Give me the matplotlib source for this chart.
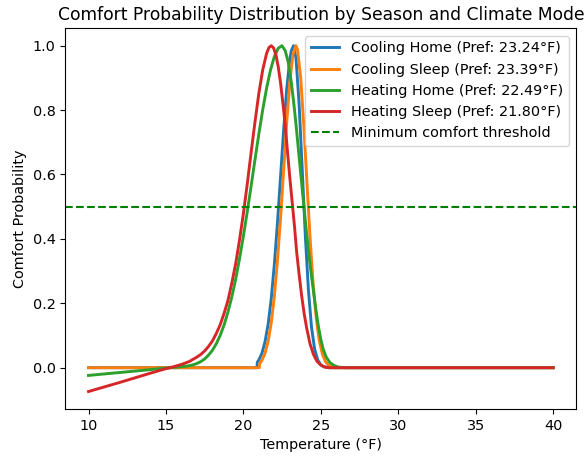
import matplotlib
matplotlib.use("Agg")
import matplotlib.pyplot as plt

# Comfort probability vs temperature, one curve per season / climate mode
cooling_home_temp = [10, 20.88, 20.9, 21.0, 21.2, 21.4, 21.6, 21.8, 22.0, 22.2, 22.4, 22.6,
                     22.8, 23.0, 23.1, 23.24, 23.4, 23.6, 23.8, 24.0, 24.2, 24.4, 24.6,
                     24.8, 25.0, 25.2, 25.4, 25.6, 40]
cooling_home_prob = [0, 0, 0.017, 0.024, 0.045, 0.081, 0.135, 0.214, 0.32, 0.448, 0.592, 0.737,
                     0.866, 0.958, 0.985, 1.0, 0.961, 0.819, 0.617, 0.411, 0.242, 0.126, 0.058,
                     0.024, 0.009, 0.003, 0.001, 0, 0]

cooling_sleep_temp = [10, 21.03, 21.05, 21.2, 21.4, 21.6, 21.8, 22.0, 22.2, 22.4, 22.6, 22.8,
                      23.0, 23.2, 23.39, 23.5, 23.7, 23.9, 24.1, 24.3, 24.5, 24.7, 24.9,
                      25.1, 25.3, 25.5, 25.7, 25.9, 40]
cooling_sleep_prob = [0, 0, 0.012, 0.023, 0.045, 0.082, 0.139, 0.221, 0.331, 0.465, 0.612, 0.762,
                      0.888, 0.972, 1.0, 0.987, 0.901, 0.755, 0.58, 0.409, 0.264, 0.156, 0.085,
                      0.042, 0.019, 0.008, 0.003, 0, 0]

heating_home_temp = [10, 12, 14, 15, 15.5, 16, 16.5, 16.75, 17, 17.25, 17.5, 17.75, 18, 18.25,
                     18.5, 18.75, 19, 19.25, 19.5, 19.75, 20, 20.25, 20.5, 20.75, 21, 21.25,
                     21.5, 21.75, 22.0, 22.25, 22.49, 22.7, 22.9, 23.1, 23.27, 23.4, 23.55,
                     23.75, 23.93, 24.1, 24.26, 24.4, 24.56, 24.7, 24.84, 25.0, 25.16, 25.35,
                     25.59, 25.85, 26.13, 26.5, 40]
heating_home_prob = [-0.024, -0.015, -0.006, -0.001, 0.001, 0.003, 0.006, 0.009, 0.013, 0.019,
                     0.027, 0.039, 0.054, 0.074, 0.1, 0.132, 0.172, 0.219, 0.274, 0.338, 0.408,
                     0.484, 0.564, 0.646, 0.726, 0.801, 0.868, 0.924, 0.966, 0.992, 1.0, 0.985,
                     0.948, 0.885, 0.815, 0.755, 0.68, 0.58, 0.49, 0.41, 0.34, 0.285, 0.225,
                     0.175, 0.13, 0.088, 0.057, 0.033, 0.016, 0.007, 0.002, 0, 0]

heating_sleep_temp = [10, 12, 14, 15, 15.5, 16, 16.5, 17, 17.25, 17.5, 17.75, 18, 18.25, 18.5,
                      18.75, 19, 19.25, 19.5, 19.75, 20, 20.25, 20.5, 20.75, 21, 21.25, 21.5,
                      21.65, 21.8, 21.95, 22.1, 22.25, 22.4, 22.58, 22.7, 22.84, 23.0, 23.18,
                      23.3, 23.44, 23.6, 23.76, 23.92, 24.08, 24.3, 24.52, 24.75, 25.0, 25.25,
                      25.5, 40]
heating_sleep_prob = [-0.074, -0.046, -0.017, -0.003, 0.003, 0.010, 0.019, 0.033, 0.041, 0.052,
                      0.066, 0.083, 0.106, 0.133, 0.168, 0.208, 0.262, 0.322, 0.396, 0.478,
                      0.57, 0.668, 0.763, 0.852, 0.925, 0.976, 0.994, 1.0, 0.993, 0.972, 0.935,
                      0.885, 0.81, 0.755, 0.676, 0.59, 0.5, 0.44, 0.36, 0.29, 0.225, 0.17,
                      0.125, 0.075, 0.042, 0.02, 0.008, 0.002, 0, 0]

preferred = {"Cooling Home": 23.24, "Cooling Sleep": 23.39,
             "Heating Home": 22.49, "Heating Sleep": 21.80}
threshold = 0.5

series = [
    ("Cooling Home", cooling_home_temp, cooling_home_prob),
    ("Cooling Sleep", cooling_sleep_temp, cooling_sleep_prob),
    ("Heating Home", heating_home_temp, heating_home_prob),
    ("Heating Sleep", heating_sleep_temp, heating_sleep_prob),
]

plt.rcParams["font.size"] = 10.4

fig = plt.figure(figsize=(5.84, 4.58), dpi=100)
ax = fig.add_axes([0.1118, 0.1074, 0.875, 0.8306])

for name, temps, probs in series:
    ax.plot(temps, probs, linewidth=2.1,
            label=f"{name} (Pref: {preferred[name]:.2f}°F)")

ax.axhline(threshold, color="green", linestyle="--", linewidth=1.5,
           label="Minimum comfort threshold")

ax.set_title("Comfort Probability Distribution by Season and Climate Mode", fontsize=12.3)
ax.set_xlabel("Temperature (°F)")
ax.set_ylabel("Comfort Probability")
ax.legend(loc="upper right")

fig.savefig("out.png", dpi=100)
